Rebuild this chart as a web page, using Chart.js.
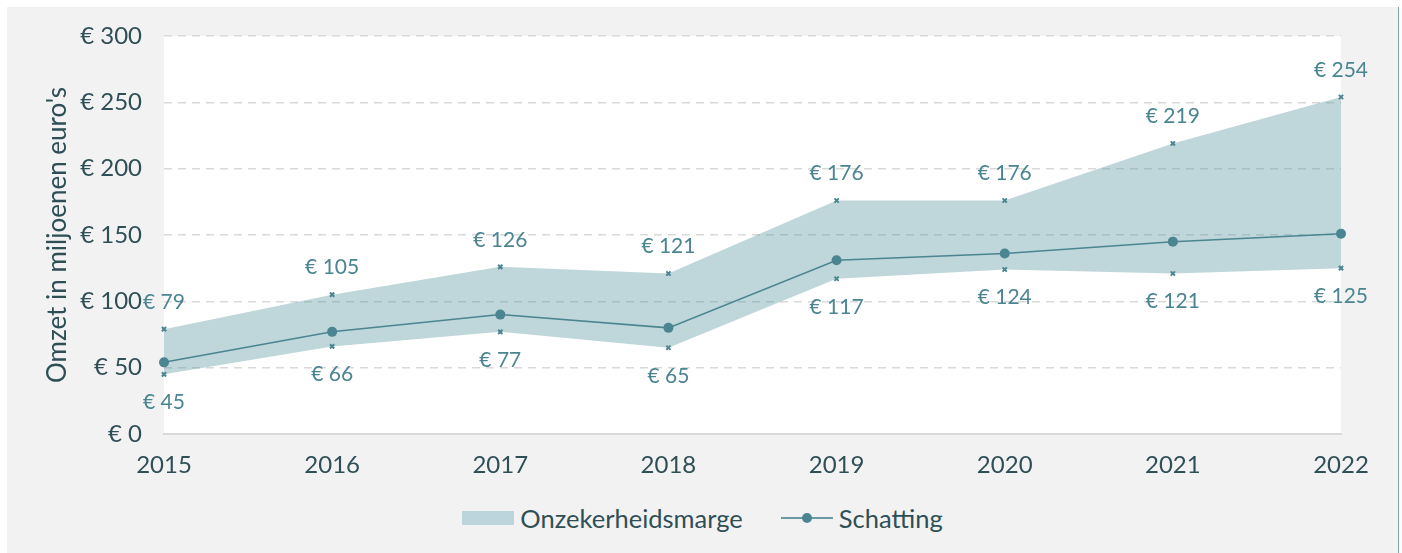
<!DOCTYPE html>
<html>
<head>
<meta charset="utf-8">
<script src="https://cdn.jsdelivr.net/npm/chart.js@4"></script>
<style>
    html, body { margin: 0; padding: 0; background: #ffffff; }
    body { width: 1402px; height: 553px; position: relative; overflow: hidden; font-family: 'Lato', sans-serif; }
    #panel { position: absolute; left: 7px; top: 7px; width: 1391px; height: 546px; background: #f2f2f2; border-right: 1px solid #7fa6ad; }
    #chartWrap { position: absolute; left: 0; top: 0; width: 1391px; height: 490px; }
    #legend { position: absolute; left: 0; top: 496px; width: 1391px; height: 30px; display: flex; justify-content: center; align-items: center; color: #2f4f57; font-size: 25.5px; }
    .item { display: flex; align-items: center; }
    .swatch { width: 52px; height: 14px; background: #bcd5dc; margin-right: 6px; }
    .lineKey { position: relative; width: 52px; height: 14px; margin-right: 6px; margin-left: 38px; }
    .lineKey::before { content: ''; position: absolute; left: 0; right: 0; top: 6px; height: 2px; background: #6a9aa4; }
    .lineKey::after { content: ''; position: absolute; left: 21px; top: 2px; width: 10px; height: 10px; border-radius: 50%; background: #4a8591; }
</style>
</head>
<body>
<div id="panel">
    <div id="chartWrap"><canvas id="omzetChart"></canvas></div>
    <div id="legend">
        <div class="item"><span class="swatch"></span>Onzekerheidsmarge</div>
        <div class="item"><span class="lineKey"></span>Schatting</div>
    </div>
</div>
<script>
// ==================== DATA ====================
const years = ['2015', '2016', '2017', '2018', '2019', '2020', '2021', '2022'];
const lowerBound = [45, 66, 77, 65, 117, 124, 121, 125];
const upperBound = [79, 105, 126, 121, 176, 176, 219, 254];
const estimate = [54, 77, 90, 80, 131, 136, 145, 151];
const yTicks = [0, 50, 100, 150, 200, 250, 300];

const TEAL = '#4a8591';
const DARK = '#2f4f57';

// White plot background
const plotBackground = {
    id: 'plotBackground',
    beforeDraw(chart) {
        const { ctx, chartArea: a } = chart;
        ctx.save();
        ctx.fillStyle = '#ffffff';
        ctx.fillRect(a.left, a.top, a.right - a.left, a.bottom - a.top);
        ctx.restore();
    }
};

// Value labels above upper and below lower markers
const boundLabels = {
    id: 'boundLabels',
    afterDatasetsDraw(chart) {
        const { ctx } = chart;
        ctx.save();
        ctx.font = '21px Lato';
        ctx.fillStyle = TEAL;
        ctx.textAlign = 'center';
        ctx.textBaseline = 'middle';
        [[0, 28], [1, -27]].forEach(([idx, dy]) => {
            const meta = chart.getDatasetMeta(idx);
            meta.data.forEach((pt, i) => {
                ctx.fillText('€ ' + chart.data.datasets[idx].data[i], pt.x, pt.y + dy);
            });
        });
        ctx.restore();
    }
};

new Chart(document.getElementById('omzetChart'), {
    type: 'line',
    data: {
        labels: years,
        datasets: [{
            label: 'Ondergrens',
            data: lowerBound,
            borderWidth: 0,
            borderColor: 'rgba(0,0,0,0)',
            fill: false,
            pointStyle: 'crossRot',
            pointRadius: 3,
            pointBorderWidth: 2,
            pointBorderColor: TEAL,
            order: 2
        }, {
            label: 'Onzekerheidsmarge',
            data: upperBound,
            borderWidth: 0,
            borderColor: 'rgba(0,0,0,0)',
            backgroundColor: 'rgba(78, 140, 153, 0.36)',
            fill: '-1',
            pointStyle: 'crossRot',
            pointRadius: 3,
            pointBorderWidth: 2,
            pointBorderColor: TEAL,
            order: 2
        }, {
            label: 'Schatting',
            data: estimate,
            borderColor: TEAL,
            borderWidth: 1.5,
            backgroundColor: TEAL,
            pointRadius: 5,
            pointBackgroundColor: TEAL,
            pointBorderWidth: 0,
            fill: false,
            order: 1
        }]
    },
    options: {
        responsive: true,
        maintainAspectRatio: false,
        animation: false,
        layout: { padding: { left: 0, right: 57, top: 29, bottom: 0 } },
        plugins: {
            legend: { display: false },
            tooltip: { enabled: false }
        },
        scales: {
            x: {
                offset: false,
                grid: { display: false },
                border: { display: true, color: '#d9d9d9', width: 2 },
                ticks: { color: DARK, font: { family: 'Lato', size: 24 }, padding: 9, maxRotation: 0 },
                afterFit: s => { s.height = 63; }
            },
            y: {
                min: 0,
                max: 300,
                afterBuildTicks: s => { s.ticks = yTicks.map(v => ({ value: v })); },
                // tick marks are invisible; their length gives the label gap
                grid: { color: '#d9d9d9', lineWidth: 1.5, drawTicks: true, tickLength: 22, tickColor: 'rgba(0,0,0,0)' },
                border: { display: false, dash: [8, 6] },
                ticks: {
                    color: DARK,
                    font: { family: 'Lato', size: 24 },
                    padding: 0,
                    callback: v => '€ ' + v
                },
                title: {
                    display: true,
                    text: "Omzet in miljoenen euro's",
                    color: DARK,
                    font: { family: 'Lato', size: 26 },
                    padding: { top: 35, bottom: 0 }
                },
                afterFit: s => { s.width = 157; }
            }
        }
    },
    plugins: [plotBackground, boundLabels]
});
</script>
</body>
</html>
